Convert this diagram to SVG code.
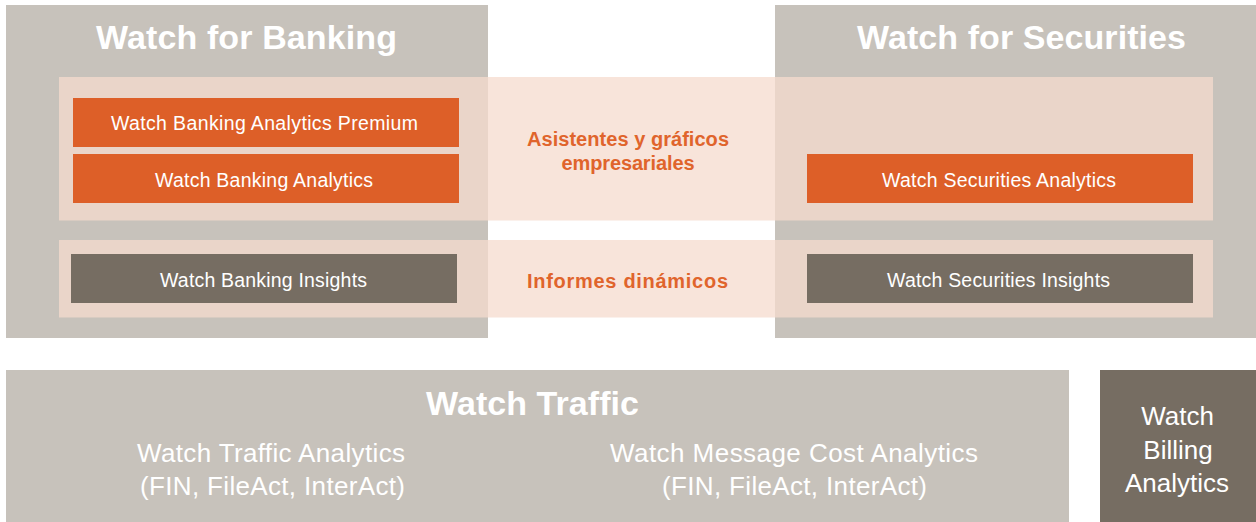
<svg xmlns="http://www.w3.org/2000/svg" width="1256" height="522" viewBox="0 0 1256 522">
<style>
.gray{fill:#C7C2BB}
.band{fill:#F6DBCE;fill-opacity:0.75}
.orange{fill:#DD5F28}
.dark{fill:#766D62}
text{font-family:"Liberation Sans",Arial,sans-serif;text-anchor:middle}
.title{font-size:34px;font-weight:bold;fill:#FFFFFF}
.box{font-size:19.5px;fill:#FFFFFF}
.olabel{font-size:20px;font-weight:bold;fill:#E0642C}
.sub{font-size:26px;fill:#FFFFFF}
</style>
<rect width="1256" height="522" fill="#FFFFFF"/>
<g id="banking">
<rect class="gray" x="6" y="5" width="482" height="333"/>
<text class="title" x="246.5" y="49" textLength="301">Watch for Banking</text>
</g>
<g id="securities">
<rect class="gray" x="775" y="5" width="481" height="333"/>
<text class="title" x="1021.5" y="49" textLength="329">Watch for Securities</text>
</g>
<g id="band-asistentes">
<rect class="band" x="59" y="77" width="1154" height="143.5"/>
<text class="olabel" x="628" y="146" textLength="202">Asistentes y gráficos</text>
<text class="olabel" x="628" y="170" textLength="133">empresariales</text>
</g>
<g id="band-informes">
<rect class="band" x="59" y="240" width="1154" height="77.5"/>
<text class="olabel" x="627.5" y="288" textLength="201">Informes dinámicos</text>
</g>
<g id="wba-premium">
<rect class="orange" x="73" y="98" width="386" height="49"/>
<text class="box" x="264.5" y="130" textLength="307">Watch Banking Analytics  Premium</text>
</g>
<g id="wba">
<rect class="orange" x="73" y="154" width="386" height="49"/>
<text class="box" x="264" y="187" textLength="218">Watch Banking Analytics</text>
</g>
<g id="wbi">
<rect class="dark" x="71" y="254" width="386" height="49"/>
<text class="box" x="263.5" y="287" textLength="207">Watch Banking Insights</text>
</g>
<g id="wsa">
<rect class="orange" x="807" y="154" width="386" height="49"/>
<text class="box" x="999" y="187" textLength="234">Watch Securities Analytics</text>
</g>
<g id="wsi">
<rect class="dark" x="807" y="254" width="386" height="49"/>
<text class="box" x="998.5" y="287" textLength="223">Watch Securities Insights</text>
</g>
<g id="traffic">
<rect class="gray" x="6" y="370" width="1063" height="152"/>
<text class="title" x="532.5" y="415" textLength="213">Watch Traffic</text>
<text class="sub" x="271" y="462" textLength="268">Watch Traffic Analytics</text>
<text class="sub" x="272.5" y="495" textLength="265">(FIN, FileAct, InterAct)</text>
<text class="sub" x="794" y="462" textLength="368">Watch Message Cost Analytics</text>
<text class="sub" x="794.5" y="495" textLength="265">(FIN, FileAct, InterAct)</text>
</g>
<g id="billing">
<rect class="dark" x="1100" y="370" width="156" height="152"/>
<text class="sub" x="1177.5" y="425">Watch</text>
<text class="sub" x="1178" y="459">Billing</text>
<text class="sub" x="1177" y="492">Analytics</text>
</g>
<g id="connectors"/>
</svg>
